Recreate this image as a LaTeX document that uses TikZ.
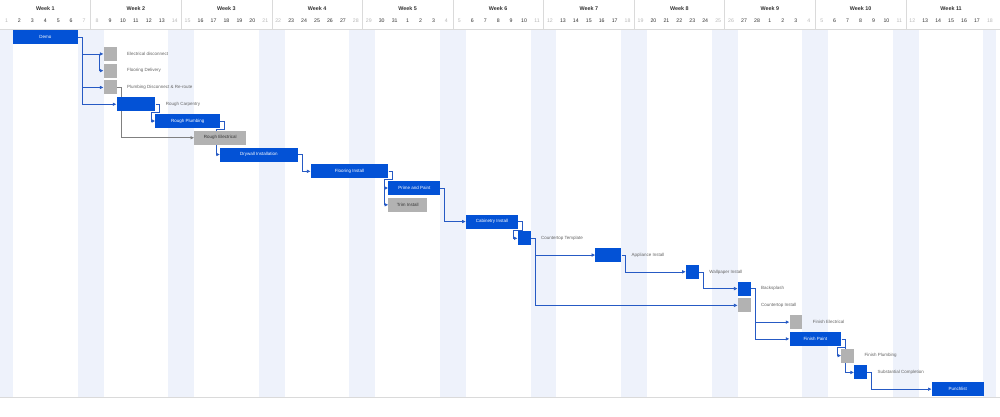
\documentclass[tikz,border=0pt]{standalone}
\usepackage{fontspec}
\setmainfont{Liberation Sans}
\usetikzlibrary{arrows.meta,positioning}

\definecolor{barblue}{RGB}{3,82,214}
\definecolor{bargrey}{RGB}{178,178,178}
\definecolor{linkblue}{RGB}{38,90,196}
\definecolor{linkgrey}{RGB}{128,128,128}
\definecolor{weekend}{RGB}{238,242,251}
\definecolor{gridline}{RGB}{218,218,218}
\definecolor{labelgrey}{RGB}{100,100,100}

\pgfdeclarelayer{background}
\pgfdeclarelayer{links}
\pgfsetlayers{background,links,main}

\def\cw{12.94}
\newcommand{\rowy}[1]{37.2+16.76*#1}

\begin{document}
\begin{tikzpicture}[
  x=1pt, y=-1pt,
  font=\fontsize{4.5}{5.4}\selectfont,
  >={Latex[length=3.6pt,width=3.6pt]},
  task/.style={
    fill=barblue,
    text=white,
    anchor=west,
    minimum height=14pt,
    inner sep=0pt
  },
  optional/.style={task, fill=bargrey, text=black!80},
  span/.style={minimum width=#1*12.94pt},
  outlabel/.style={text=labelgrey, inner sep=0pt},
  daynum/.style={font=\fontsize{5.2}{6}\selectfont, text=black!80},
  offday/.style={daynum, text=black!28},
  weekhead/.style={font=\bfseries\fontsize{5.4}{6.5}\selectfont, text=black!80},
  link/.style={->, line width=0.65pt, draw=linkblue},
  greylink/.style={link, draw=linkgrey}
]
  \useasboundingbox (0,0) rectangle (1000,417);
  \begin{pgfonlayer}{background}
    \fill[white] (0,0) rectangle (1000,417);
  \end{pgfonlayer}

  % Timeline header: weeks, days and weekend columns.
  \foreach \i in {0,...,76} {
    \pgfmathtruncatemacro\off{(mod(\i,7)==0) || (mod(\i,7)==6)}
    \pgfmathtruncatemacro\dnum{\i<31 ? \i+1 : (\i<59 ? \i-30 : \i-58)}
    \ifnum\off=1
      \begin{pgfonlayer}{background}
        \fill[weekend] ({\i*\cw},30) rectangle ({(\i+1)*\cw},397);
      \end{pgfonlayer}
      \node[offday] (day\i) at ({(\i+0.5)*\cw},21) {\dnum};
    \else
      \node[daynum] (day\i) at ({(\i+0.5)*\cw},21) {\dnum};
    \fi
  }
  \foreach \w in {1,...,11}
    \node[weekhead] (week\w) at ({(7*\w-3.5)*\cw},8.5) {Week \w};
  \foreach \w in {1,...,10}
    \draw[gridline] ({7*\w*\cw},0) -- ({7*\w*\cw},29.5);
  \draw[gridline] (0,29.5) -- (1000,29.5);
  \draw[gridline] (0,397.5) -- (1000,397.5);

  % Task bars, one per row.
  \node[task,span=5] (demo) at ({1*\cw},{\rowy{0}}) {Demo};
  \node[optional,span=1] (elec) at ({8*\cw},{\rowy{1}}) {};
  \node[optional,span=1] (floordel) at ({8*\cw},{\rowy{2}}) {};
  \node[optional,span=1] (plumbdis) at ({8*\cw},{\rowy{3}}) {};
  \node[task,span=3] (rcarp) at ({9*\cw},{\rowy{4}}) {};
  \node[task,span=5] (rplumb) at ({12*\cw},{\rowy{5}}) {Rough Plumbing};
  \node[optional,span=4] (relec) at ({15*\cw},{\rowy{6}}) {Rough Electrical};
  \node[task,span=6] (drywall) at ({17*\cw},{\rowy{7}}) {Drywall Installation};
  \node[task,span=6] (flooring) at ({24*\cw},{\rowy{8}}) {Flooring Install};
  \node[task,span=4] (paint) at ({30*\cw},{\rowy{9}}) {Prime and Paint};
  \node[optional,span=3] (trim) at ({30*\cw},{\rowy{10}}) {Trim Install};
  \node[task,span=4] (cabinet) at ({36*\cw},{\rowy{11}}) {Cabinetry Install};
  \node[task,span=1] (cttemplate) at ({40*\cw},{\rowy{12}}) {};
  \node[task,span=2] (appliance) at ({46*\cw},{\rowy{13}}) {};
  \node[task,span=1] (wallpaper) at ({53*\cw},{\rowy{14}}) {};
  \node[task,span=1] (backsplash) at ({57*\cw},{\rowy{15}}) {};
  \node[optional,span=1] (ctinstall) at ({57*\cw},{\rowy{16}}) {};
  \node[optional,span=1] (finelec) at ({61*\cw},{\rowy{17}}) {};
  \node[task,span=4] (finpaint) at ({61*\cw},{\rowy{18}}) {Finish Paint};
  \node[optional,span=1] (finplumb) at ({65*\cw},{\rowy{19}}) {};
  \node[task,span=1] (substantial) at ({66*\cw},{\rowy{20}}) {};
  \node[task,span=4] (punch) at ({72*\cw},{\rowy{21}}) {Punchlist};

  % Labels beside the short bars.
  \node[outlabel,right=10pt of elec] (elec-lbl) {Electrical disconnect};
  \node[outlabel,right=10pt of floordel] (floordel-lbl) {Flooring Delivery};
  \node[outlabel,right=10pt of plumbdis] (plumbdis-lbl) {Plumbing Disconnect \& Re-route};
  \node[outlabel,right=10pt of rcarp] (rcarp-lbl) {Rough Carpentry};
  \node[outlabel,right=10pt of cttemplate] (cttemplate-lbl) {Countertop Template};
  \node[outlabel,right=10pt of appliance] (appliance-lbl) {Appliance Install};
  \node[outlabel,right=10pt of wallpaper] (wallpaper-lbl) {Wallpaper Install};
  \node[outlabel,right=10pt of backsplash] (backsplash-lbl) {Backsplash};
  \node[outlabel,right=10pt of ctinstall] (ctinstall-lbl) {Countertop Install};
  \node[outlabel,right=10pt of finelec] (finelec-lbl) {Finish Electrical};
  \node[outlabel,right=10pt of finplumb] (finplumb-lbl) {Finish Plumbing};
  \node[outlabel,right=10pt of substantial] (substantial-lbl) {Substantial Completion};

  % Dependencies, drawn under the bars.
  \begin{pgfonlayer}{links}
    \draw[link] (demo.east) -- ++(4,0) |- (elec.west);
    \draw[link] (demo.east) -- ++(4,0) |- ([xshift=-4pt]elec.west) |- (floordel.west);
    \draw[link] (demo.east) -- ++(4,0) |- (plumbdis.west);
    \draw[link] (demo.east) -- ++(4,0) |- (rcarp.west);
    \draw[greylink] (plumbdis.east) -- ++(4,0) |- (relec.west);
    \draw[link] (rcarp.east) -- ++(4,0) -- ++(0,8.4) -| ([xshift=-4pt]rplumb.west) -- (rplumb.west);
    \draw[link] (rplumb.east) -- ++(4,0) -- ++(0,8.4) -| ([xshift=-4pt]drywall.west) -- (drywall.west);
    \draw[link] (drywall.east) -- ++(4,0) |- (flooring.west);
    \draw[link] (flooring.east) -- ++(4,0) -- ++(0,8.4) -| ([xshift=-4pt]paint.west) -- (paint.west);
    \draw[link] (flooring.east) -- ++(4,0) -- ++(0,8.4) -| ([xshift=-4pt]trim.west) -- (trim.west);
    \draw[link] (paint.east) -- ++(4,0) |- (cabinet.west);
    \draw[link] (cabinet.east) -- ++(4,0) -- ++(0,8.4) -| ([xshift=-4pt]cttemplate.west) -- (cttemplate.west);
    \draw[link] (cttemplate.east) -- ++(4,0) |- (appliance.west);
    \draw[link] (cttemplate.east) -- ++(4,0) |- (ctinstall.west);
    \draw[link] (appliance.east) -- ++(4,0) |- (wallpaper.west);
    \draw[link] (wallpaper.east) -- ++(4,0) |- (backsplash.west);
    \draw[link] (backsplash.east) -- ++(4,0) |- (finelec.west);
    \draw[link] (backsplash.east) -- ++(4,0) |- (finpaint.west);
    \draw[link] (finpaint.east) -- ++(4,0) -- ++(0,8.4) -| ([xshift=-4pt]finplumb.west) -- (finplumb.west);
    \draw[link] (finpaint.east) -- ++(4,0) |- (substantial.west);
    \draw[link] (substantial.east) -- ++(4,0) |- (punch.west);
  \end{pgfonlayer}
\end{tikzpicture}
\end{document}
